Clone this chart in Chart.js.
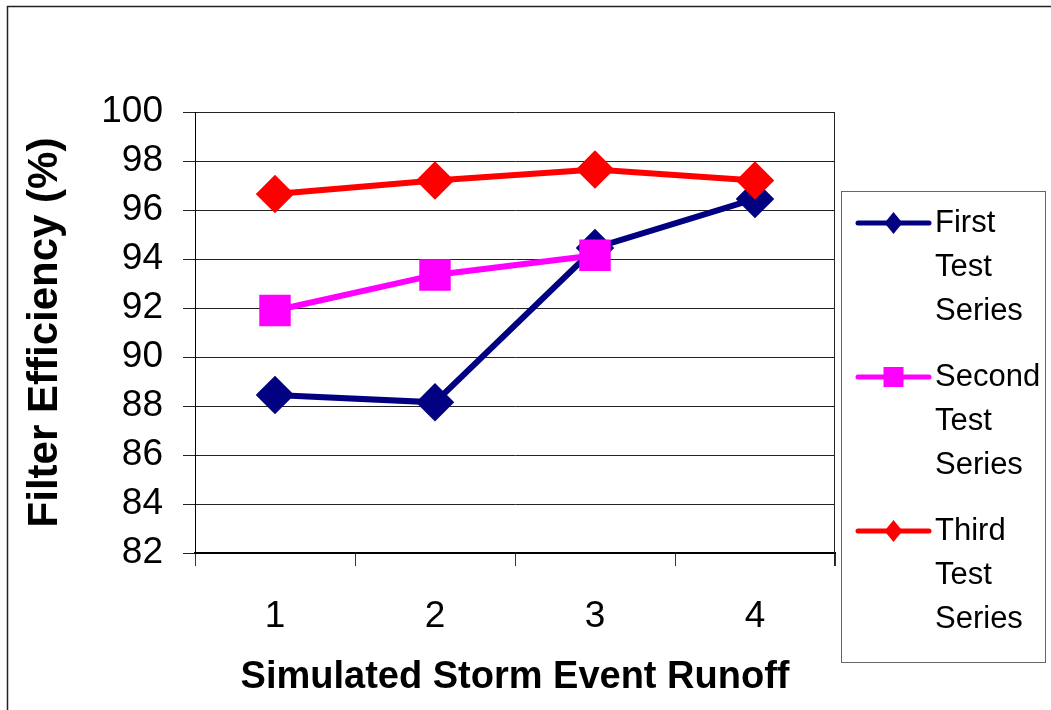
<!DOCTYPE html>
<html>
<head>
<meta charset="utf-8">
<script src="https://cdn.jsdelivr.net/npm/chart.js@4.4.1/dist/chart.umd.min.js"></script>
<style>
  html, body { margin: 0; padding: 0; background: #fff; }
</style>
</head>
<body>
<canvas id="myChart" width="1051" height="710"></canvas>
<script>
var runs = ['1', '2', '3', '4'];
var firstSeries = [88.45, 88.15, 94.45, 96.45];
var secondSeries = [91.9, 93.35, 94.15, null];
var thirdSeries = [96.65, 97.2, 97.65, 97.2];
var yTickValues = [82, 84, 86, 88, 90, 92, 94, 96, 98, 100];
var seriesNames = [
  ['First', 'Test', 'Series'],
  ['Second', 'Test', 'Series'],
  ['Third', 'Test', 'Series']
];

var font = "'Liberation Sans', Arial, sans-serif";

// frame round the whole chart, plot border on the right
var framePlugin = {
  id: 'frame',
  beforeDraw: function (chart) {
    var ctx = chart.ctx;
    ctx.save();
    ctx.fillStyle = '#fff';
    ctx.fillRect(0, 0, chart.width, chart.height);
    ctx.strokeStyle = '#222';
    ctx.lineWidth = 1.5;
    ctx.beginPath();
    ctx.moveTo(7.5, chart.height);
    ctx.lineTo(7.5, 6.5);
    ctx.lineTo(chart.width, 6.5);
    ctx.stroke();
    ctx.restore();
  },
  beforeDatasetsDraw: function (chart) {
    var a = chart.chartArea, ctx = chart.ctx;
    ctx.save();
    ctx.strokeStyle = '#222';
    ctx.lineWidth = 1;
    ctx.beginPath();
    ctx.moveTo(a.right - 0.5, a.top);
    ctx.lineTo(a.right - 0.5, a.bottom + 13);
    ctx.stroke();
    ctx.restore();
  }
};

// legend with labels on several lines, in a box
var boxLegend = {
  id: 'boxLegend',
  afterDraw: function (chart) {
    var ctx = chart.ctx;
    var left = chart.chartArea.right + 6;
    ctx.save();
    ctx.strokeStyle = '#666';
    ctx.lineWidth = 1;
    ctx.strokeRect(left + 0.5, 191.5, 204, 471);
    ctx.font = '31px ' + font;
    ctx.textBaseline = 'middle';
    ctx.textAlign = 'left';
    chart.data.datasets.forEach(function (ds, i) {
      var y = 223 + i * 154;
      var x0 = left + 17, x1 = left + 88, xm = (x0 + x1) / 2;
      ctx.strokeStyle = ds.borderColor;
      ctx.fillStyle = ds.borderColor;
      ctx.lineWidth = 5;
      ctx.lineCap = 'round';
      ctx.beginPath();
      ctx.moveTo(x0, y);
      ctx.lineTo(x1, y);
      ctx.stroke();
      ctx.beginPath();
      if (ds.pointStyle === 'rect') {
        ctx.rect(xm - 10, y - 10, 20, 20);
      } else {
        ctx.moveTo(xm - 9, y);
        ctx.lineTo(xm, y - 11);
        ctx.lineTo(xm + 9, y);
        ctx.lineTo(xm, y + 11);
        ctx.closePath();
      }
      ctx.fill();
      ctx.fillStyle = '#000';
      ds.label.forEach(function (line, k) {
        ctx.fillText(line, left + 94, y + k * 44);
      });
    });
    ctx.restore();
  }
};

var ctx = document.getElementById('myChart').getContext('2d');
var myChart = new Chart(ctx, {
  type: 'line',
  data: {
    labels: runs,
    datasets: [{
      label: seriesNames[0],
      data: firstSeries,
      order: 3,
      borderColor: '#000080',
      backgroundColor: '#000080',
      borderWidth: 6,
      pointStyle: 'rectRot',
      pointRadius: 15,
      pointHoverRadius: 15,
      tension: 0
    },
    {
      label: seriesNames[1],
      data: secondSeries,
      order: 2,
      borderColor: '#ff00ff',
      backgroundColor: '#ff00ff',
      borderWidth: 6,
      pointStyle: 'rect',
      pointRadius: 18,
      pointHoverRadius: 18,
      tension: 0
    },
    {
      label: seriesNames[2],
      data: thirdSeries,
      order: 1,
      borderColor: '#ff0000',
      backgroundColor: '#ff0000',
      borderWidth: 6,
      pointStyle: 'rectRot',
      pointRadius: 15,
      pointHoverRadius: 15,
      tension: 0
    }]
  },
  options: {
    responsive: false,
    animation: false,
    devicePixelRatio: 1,
    layout: {
      padding: { left: 0, top: 112, right: 216, bottom: 0 }
    },
    plugins: {
      legend: { display: false },
      tooltip: { enabled: false }
    },
    scales: {
      x: {
        offset: true,
        grid: {
          offset: true,
          drawOnChartArea: false,
          drawTicks: true,
          tickLength: 13,
          color: '#333'
        },
        border: { color: '#000', width: 2 },
        ticks: {
          color: '#000',
          padding: 29,
          autoSkip: false,
          maxRotation: 0,
          font: { family: font, size: 37 }
        },
        title: {
          display: true,
          text: 'Simulated Storm Event Runoff',
          color: '#000',
          padding: { top: 0, bottom: 10 },
          font: { family: font, size: 38, weight: 'bold' }
        },
        afterFit: function (s) { s.height = 157; }
      },
      y: {
        min: 82,
        max: 100,
        afterBuildTicks: function (s) {
          s.ticks = yTickValues.map(function (v) { return { value: v }; });
        },
        grid: {
          color: '#222',
          lineWidth: 1,
          tickLength: 12
        },
        border: { color: '#000', width: 1 },
        ticks: {
          color: '#000',
          padding: 20,
          autoSkip: false,
          font: { family: font, size: 37 }
        },
        title: {
          display: true,
          text: 'Filter Efficiency (%)',
          color: '#000',
          padding: { top: 20, bottom: 0 },
          font: { family: font, size: 42, weight: 'bold' }
        },
        afterFit: function (s) { s.width = 195; }
      }
    }
  },
  plugins: [framePlugin, boxLegend]
});
</script>
</body>
</html>
